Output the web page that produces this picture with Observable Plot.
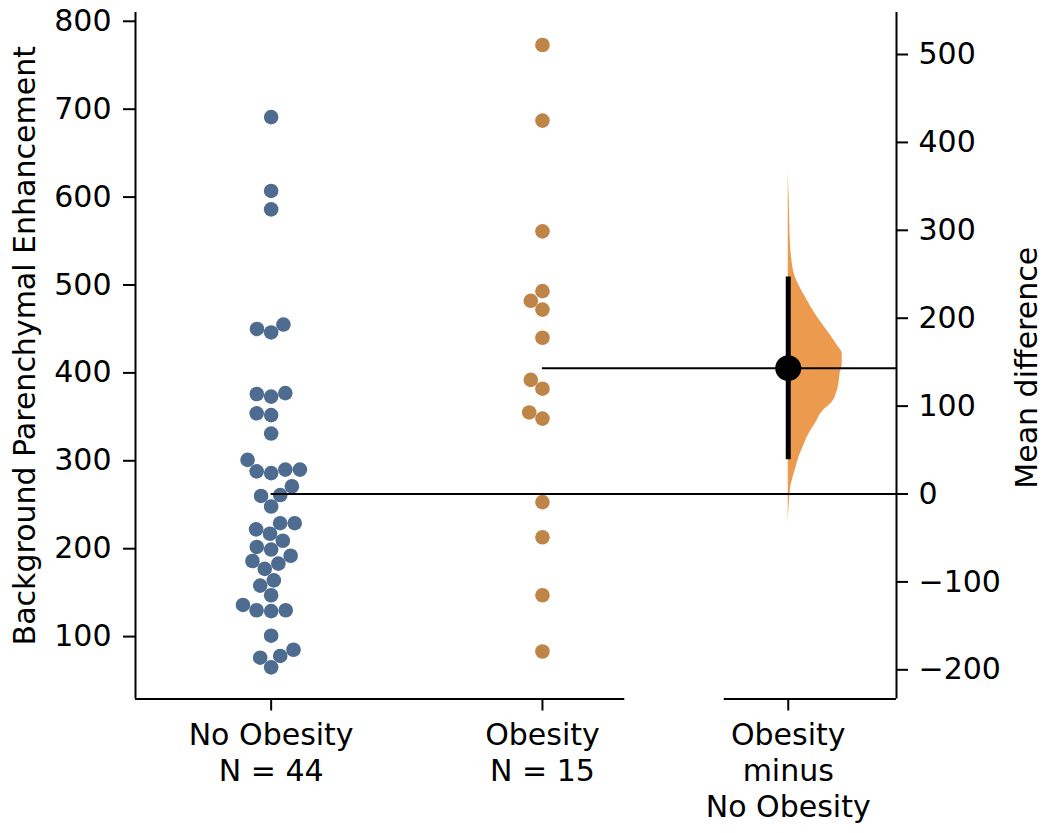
<!DOCTYPE html>
<html>
<head>
<meta charset="utf-8">
<script src="https://cdn.jsdelivr.net/npm/d3@7"></script>
<script src="https://cdn.jsdelivr.net/npm/@observablehq/plot@0.6"></script>
<style>
  html, body { margin: 0; padding: 0; background: white; }
  #chart { width: 1050px; height: 833px; overflow: hidden; }
</style>
</head>
<body>
<div id="chart"></div>
<script>
// ---------------- DATA ----------------
const groupNames = ["No Obesity", "Obesity"];
const noObesity = [691, 607, 586, 450, 446, 455, 376, 373, 377, 352, 354, 331, 301,
  290, 290, 286, 288, 271, 260, 261, 248, 222, 217, 229, 229, 202, 199, 209,
  186, 177, 183, 192, 164, 158, 147, 136, 130, 130, 129, 101, 76, 65, 78, 85];
const obesity = [773, 687, 561, 493, 482, 472, 440, 392, 382, 355, 348, 253, 213, 147, 83];
const contrastLabel = "Obesity\nminus\nNo Obesity";
const ciLow = 39;
const ciHigh = 247;
// bootstrap distribution of the mean difference (relative density)
const bootDiff = [365, 330, 300, 270, 247, 228, 212, 201, 190, 178, 169, 160, 148,
  137, 126, 118, 104, 95, 80, 69, 54, 42, 27, 12, -10, -34];
const bootDensity = [0, 0.02, 0.03, 0.06, 0.13, 0.28, 0.43, 0.54, 0.67, 0.81, 0.91, 1.0, 1.0,
  0.96, 0.94, 0.91, 0.81, 0.65, 0.5, 0.39, 0.28, 0.2, 0.13, 0.06, 0.02, 0];
const leftTicks = [100, 200, 300, 400, 500, 600, 700, 800];
const rightTicks = [-200, -100, 0, 100, 200, 300, 400, 500];
const yLabel = "Background Parenchymal Enhancement";
const rightLabel = "Mean difference";

// ---------------- LAYOUT ----------------
const W = 1050, H = 833;
const mL = 135, mR = 154, mT = 12, mB = 134.5;
const xDomain = [-0.5, 2.305];
const yDomain = [29, 810];
const groupPos = [0, 1];
const diffPos = 1.906;
const rawEnd = 1.3035, contrastStart = 1.67;
const unitPx = (W - mL - mR) / (xDomain[1] - xDomain[0]);
const pxPerVal = (H - mT - mB) / (yDomain[1] - yDomain[0]);
const dotR = 7.3, dotGap = 14.6;
const colors = ["#4e6b90", "#bf8447"];
const violinColor = "#ec9b4e";
const font = "DejaVu Sans";
const fs = 30;

const mean = a => d3.mean(a);
const cMean = mean(noObesity);
const tMean = mean(obesity);
const diff = tMean - cMean;

// simple beeswarm (pixel space) -> x offsets in data units
function swarm(values) {
  const pts = values.map(v => ({v, y: v * pxPerVal, x: 0}));
  const order = pts.slice().sort((a, b) => a.y - b.y);
  const placed = [];
  for (const p of order) {
    const cands = [0];
    for (const q of placed) {
      const dy = q.y - p.y;
      if (Math.abs(dy) < dotGap) {
        const dx = Math.sqrt(dotGap * dotGap - dy * dy);
        cands.push(q.x + dx, q.x - dx);
      }
    }
    cands.sort((a, b) => Math.abs(a) - Math.abs(b) || a - b);
    for (const c of cands) {
      let ok = true;
      for (const q of placed) {
        const dx = q.x - c, dy = q.y - p.y;
        if (dx * dx + dy * dy < dotGap * dotGap - 1e-6) { ok = false; break; }
      }
      if (ok) { p.x = c; break; }
    }
    placed.push(p);
  }
  return pts.map(p => p.x / unitPx);
}

const dots = [];
[noObesity, obesity].forEach((arr, gi) => {
  const offs = swarm(arr);
  arr.forEach((v, i) => dots.push({g: gi, v, x: groupPos[gi] + offs[i]}));
});

const boot = bootDiff.map((d, i) => ({d, w: bootDensity[i]}));
const violinMax = 54 / unitPx;

const tickLabels = new Map([
  [groupPos[0], `${groupNames[0]}\nN = ${noObesity.length}`],
  [groupPos[1], `${groupNames[1]}\nN = ${obesity.length}`],
  [diffPos, contrastLabel]
]);

const fmt = v => (v < 0 ? "\u2212" + Math.abs(v) : String(v));

const chart = Plot.plot({
  width: W,
  height: H,
  marginLeft: mL,
  marginRight: mR,
  marginTop: mT,
  marginBottom: mB,
  style: {fontFamily: font, fontSize: fs + "px", background: "white", color: "black"},
  x: {type: "linear", domain: xDomain},
  y: {type: "linear", domain: yDomain},
  marks: [
    // spines
    Plot.ruleX([xDomain[0]], {stroke: "black", strokeWidth: 2}),
    Plot.ruleX([xDomain[1]], {stroke: "black", strokeWidth: 2}),
    Plot.ruleY([yDomain[0]], {x1: xDomain[0], x2: rawEnd, stroke: "black", strokeWidth: 2}),
    Plot.ruleY([yDomain[0]], {x1: contrastStart, x2: xDomain[1], stroke: "black", strokeWidth: 2}),
    // raw data swarms
    Plot.dot(dots, {x: "x", y: "v", r: dotR, fill: d => colors[d.g], stroke: "none"}),
    // bootstrap half-violin
    Plot.areaX(boot, {
      y: d => cMean + d.d,
      x1: diffPos,
      x2: d => diffPos + d.w * violinMax,
      fill: violinColor,
      curve: "monotone-y"
    }),
    // mean reference lines
    Plot.ruleY([cMean], {x1: groupPos[0], x2: xDomain[1], stroke: "black", strokeWidth: 2}),
    Plot.ruleY([tMean], {x1: groupPos[1], x2: xDomain[1], stroke: "black", strokeWidth: 2}),
    // CI and effect size
    Plot.ruleX([diffPos], {y1: cMean + ciLow, y2: cMean + ciHigh, stroke: "black", strokeWidth: 5}),
    Plot.dot([diff], {x: diffPos, y: d => cMean + d, r: 13, fill: "black"}),
    // axes
    Plot.axisY({anchor: "left", ticks: leftTicks, tickSize: 12, tickPadding: 12,
      strokeWidth: 2, fontSize: fs, label: null, tickFormat: d => String(d)}),
    Plot.axisY({anchor: "right", ticks: rightTicks.map(d => cMean + d), tickSize: 11,
      tickPadding: 11, strokeWidth: 2, fontSize: fs, label: null,
      tickFormat: v => fmt(Math.round(v - cMean))}),
    Plot.axisX({ticks: [...tickLabels.keys()], tickSize: 12, tickPadding: 8,
      strokeWidth: 2, fontSize: fs, lineHeight: 1.2, label: null,
      tickFormat: d => tickLabels.get(d) ?? ""}),
    // axis titles
    Plot.text([yLabel], {frameAnchor: "left", textAnchor: "middle", dx: -110, dy: -10, rotate: -90, fontSize: fs}),
    Plot.text([rightLabel], {frameAnchor: "right", textAnchor: "middle", dx: 131, dy: 12, rotate: -90, fontSize: fs})
  ]
});
document.getElementById("chart").appendChild(chart);
</script>
</body>
</html>
